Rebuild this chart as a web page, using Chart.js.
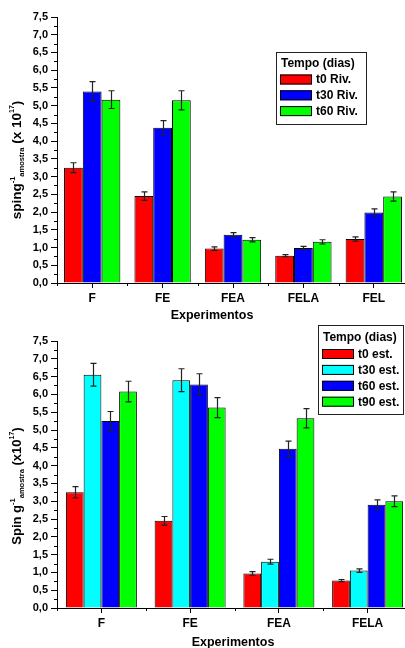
<!DOCTYPE html>
<html><head><meta charset="utf-8">
<script src="https://cdn.jsdelivr.net/npm/chart.js@4.4.1/dist/chart.umd.min.js"></script>
<style>
html,body{margin:0;padding:0;background:#fff;overflow:hidden;width:405px;height:648px;}
#wrap{position:relative;width:405px;height:648px;overflow:hidden;background:#fff;}
#c1{position:absolute;left:0;top:0;}
#c2{position:absolute;left:0;top:322px;}
</style></head><body>
<div id="wrap"><canvas id="c1" width="409" height="322"></canvas><canvas id="c2" width="412" height="326"></canvas></div>
<script>
// ---- Data: top chart (Riv.) ----
const topCategories = ['F', 'FE', 'FEA', 'FELA', 'FEL'];
const topSeriesLabels = ['t0 Riv.', 't30 Riv.', 't60 Riv.'];
const topT0 = [3.25, 2.45, 0.97, 0.77, 1.24];
const topT30 = [5.40, 4.38, 1.36, 0.99, 1.99];
const topT60 = [5.17, 5.15, 1.22, 1.16, 2.44];
const topT0Err = [0.14, 0.12, 0.05, 0.03, 0.06];
const topT30Err = [0.28, 0.20, 0.06, 0.04, 0.10];
const topT60Err = [0.25, 0.27, 0.06, 0.06, 0.13];

// ---- Data: bottom chart (est.) ----
const botCategories = ['F', 'FE', 'FEA', 'FELA'];
const botSeriesLabels = ['t0 est.', 't30 est.', 't60 est.', 't90 est.'];
const botT0 = [3.25, 2.45, 0.97, 0.77];
const botT30 = [6.55, 6.40, 1.30, 1.05];
const botT60 = [5.25, 6.28, 4.47, 2.90];
const botT90 = [6.08, 5.63, 5.33, 3.00];
const botT0Err = [0.16, 0.12, 0.05, 0.03];
const botT30Err = [0.32, 0.32, 0.07, 0.05];
const botT60Err = [0.27, 0.30, 0.22, 0.14];
const botT90Err = [0.29, 0.28, 0.27, 0.15];

const yTickValues = [0, 0.5, 1, 1.5, 2, 2.5, 3, 3.5, 4, 4.5, 5, 5.5, 6, 6.5, 7, 7.5];

const FONT = "'Liberation Sans', Arial, Helvetica, sans-serif";
Chart.defaults.font.family = FONT;
Chart.defaults.font.weight = 'bold';
Chart.defaults.color = '#000';

function ds(label, data, errs, color) {
  return { label: label, data: data, errors: errs, backgroundColor: color, borderColor: '#000',
    borderWidth: 1, categoryPercentage: 0.8, barPercentage: 1.0 };
}

const errorBars = {
  id: 'errorBars',
  afterDatasetsDraw(chart) {
    const ctx = chart.ctx, ys = chart.scales.y;
    ctx.save();
    ctx.strokeStyle = '#222';
    ctx.lineWidth = 1.2;
    chart.data.datasets.forEach((d, i) => {
      const meta = chart.getDatasetMeta(i);
      meta.data.forEach((el, j) => {
        const v = d.data[j], e = d.errors[j];
        const x = Math.round(el.x) + 0.5;
        const yt = ys.getPixelForValue(v + e), yb = ys.getPixelForValue(v - e);
        ctx.beginPath();
        ctx.moveTo(x, yt); ctx.lineTo(x, yb);
        ctx.moveTo(x - 3, yt); ctx.lineTo(x + 3, yt);
        ctx.moveTo(x - 3, yb); ctx.lineTo(x + 3, yb);
        ctx.stroke();
      });
    });
    ctx.restore();
  }
};

const decorations = {
  id: 'decorations',
  afterDraw(chart, args, opts) {
    const ctx = chart.ctx, a = chart.chartArea, ys = chart.scales.y;
    ctx.save();
    ctx.strokeStyle = '#000'; ctx.lineWidth = 1;
    // minor y ticks
    for (let k = 0; k < yTickValues.length - 1; k++) {
      const v = (yTickValues[k] + yTickValues[k + 1]) / 2;
      const y = Math.round(ys.getPixelForValue(v)) + 0.5;
      ctx.beginPath(); ctx.moveTo(a.left - 3, y); ctx.lineTo(a.left, y); ctx.stroke();
    }
    // minor x ticks at category boundaries
    const n = chart.data.labels.length;
    for (let i = 0; i <= n; i++) {
      const x = Math.round(a.left + i * (a.right - a.left) / n) + 0.5;
      ctx.beginPath(); ctx.moveTo(x, a.bottom); ctx.lineTo(x, a.bottom + 3); ctx.stroke();
    }
    // x title
    ctx.fillStyle = '#000';
    ctx.font = 'bold 12.5px ' + FONT;
    ctx.textAlign = 'center'; ctx.textBaseline = 'middle';
    ctx.fillText(opts.xTitle, opts.xTitleX, opts.xTitleY);
    // y title (rich text, rotated)
    const segs = opts.yTitle;
    let total = 0;
    segs.forEach(s => { ctx.font = 'bold ' + s.s + 'px ' + FONT; s.w = ctx.measureText(s.t).width; total += s.w; });
    ctx.translate(opts.yTitleX, opts.yTitleY);
    ctx.rotate(-Math.PI / 2);
    ctx.textAlign = 'left'; ctx.textBaseline = 'alphabetic';
    let cx = -total / 2;
    segs.forEach(s => { ctx.font = 'bold ' + s.s + 'px ' + FONT; ctx.fillText(s.t, cx, s.dy); cx += s.w; });
    ctx.restore();
    // legend
    const L = opts.legend;
    ctx.save();
    ctx.fillStyle = '#fff';
    ctx.fillRect(L.x, L.y, L.w, L.h);
    ctx.strokeStyle = '#222'; ctx.lineWidth = 1;
    ctx.strokeRect(L.x + 0.5, L.y + 0.5, L.w, L.h);
    ctx.fillStyle = '#000';
    ctx.font = 'bold 12px ' + FONT;
    ctx.textAlign = 'left'; ctx.textBaseline = 'middle';
    ctx.fillText(L.title, L.x + 5, L.titleY);
    chart.data.datasets.forEach((d, i) => {
      const ry = L.rowY + i * L.rowStep;
      ctx.fillStyle = d.backgroundColor;
      ctx.fillRect(L.x + 4, ry, 32, 10);
      ctx.strokeStyle = '#000';
      ctx.strokeRect(L.x + 4.5, ry + 0.5, 31, 9);
      ctx.fillStyle = '#000';
      ctx.fillText(d.label, L.x + 40, ry + 5.5);
    });
    ctx.restore();
  }
};

function makeOptions(padTop, xHeight, deco) {
  return {
    responsive: false, animation: false,
    layout: { padding: { top: padTop, right: 0, left: 0, bottom: 0 } },
    plugins: { legend: { display: false }, tooltip: { enabled: false }, decorations: deco },
    scales: {
      x: {
        offset: true,
        grid: { display: true, drawOnChartArea: false, offset: false, tickLength: 5, color: '#000', tickColor: '#000' },
        border: { display: true, color: '#000', width: 1 },
        ticks: { font: { size: 12, weight: 'bold' }, color: '#000', padding: 3, maxRotation: 0, autoSkip: false },
        afterFit(scale) { scale.height = xHeight; }
      },
      y: {
        min: 0, max: 7.5,
        grid: { display: true, drawOnChartArea: false, tickLength: 6, color: '#000', tickColor: '#000' },
        border: { display: true, color: '#000', width: 1 },
        ticks: { stepSize: 0.5, font: { size: 11, weight: 'bold' }, color: '#000', padding: 3,
          callback: v => Number(v).toFixed(1).replace('.', ',') },
        afterFit(scale) { scale.width = 57; }
      }
    }
  };
}

new Chart(document.getElementById('c1'), {
  type: 'bar',
  data: {
    labels: topCategories,
    datasets: [
      ds(topSeriesLabels[0], topT0, topT0Err, '#ff0000'),
      ds(topSeriesLabels[1], topT30, topT30Err, '#0000ff'),
      ds(topSeriesLabels[2], topT60, topT60Err, '#00ff00')
    ]
  },
  options: makeOptions(17, 39, {
    xTitle: 'Experimentos', xTitleX: 212, xTitleY: 316,
    yTitleX: 20.5, yTitleY: 160,
    yTitle: [
      { t: 'sping', s: 13.5, dy: 0 }, { t: '-1', s: 7.5, dy: -6 }, { t: 'amostra', s: 7.5, dy: 3 },
      { t: ' (x 10', s: 13.5, dy: 0 }, { t: '17', s: 7, dy: -7 }, { t: ')', s: 13.5, dy: 0 }
    ],
    legend: { x: 276, y: 52, w: 90, h: 72, title: 'Tempo (dias)', titleY: 64, rowY: 74.5, rowStep: 15.8 }
  }),
  plugins: [errorBars, decorations]
});

new Chart(document.getElementById('c2'), {
  type: 'bar',
  data: {
    labels: botCategories,
    datasets: [
      ds(botSeriesLabels[0], botT0, botT0Err, '#ff0000'),
      ds(botSeriesLabels[1], botT30, botT30Err, '#00ffff'),
      ds(botSeriesLabels[2], botT60, botT60Err, '#0000ff'),
      ds(botSeriesLabels[3], botT90, botT90Err, '#00ff00')
    ]
  },
  options: makeOptions(19, 40, {
    xTitle: 'Experimentos', xTitleX: 233, xTitleY: 321,
    yTitleX: 20.5, yTitleY: 164,
    yTitle: [
      { t: 'Spin g', s: 13, dy: 0 }, { t: '-1', s: 7.5, dy: -6 }, { t: 'amostra', s: 7.5, dy: 3 },
      { t: ' (x10', s: 13, dy: 0 }, { t: '17', s: 7, dy: -7 }, { t: ')', s: 13, dy: 0 }
    ],
    legend: { x: 318, y: 3, w: 85, h: 89, title: 'Tempo (dias)', titleY: 16, rowY: 27, rowStep: 15.9 }
  }),
  plugins: [errorBars, decorations]
});
</script>
</body></html>
